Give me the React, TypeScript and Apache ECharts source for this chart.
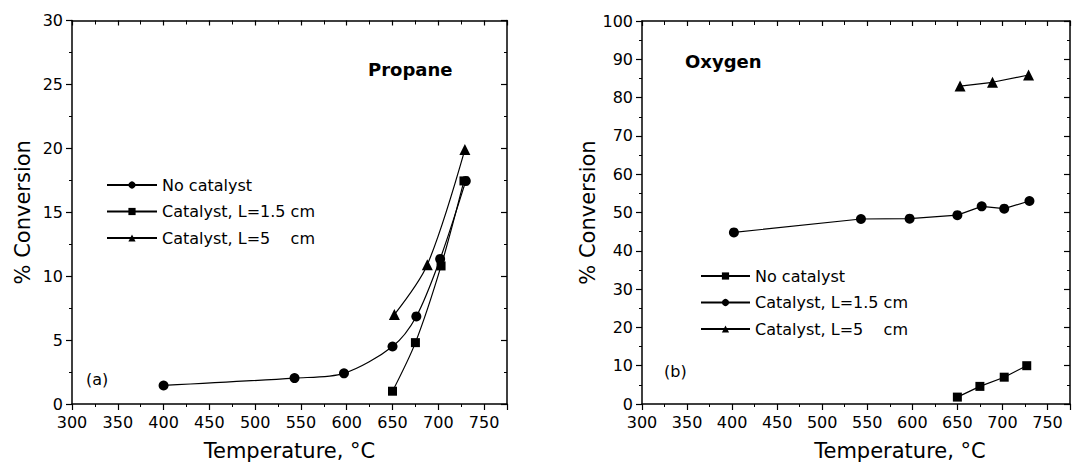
import React, { useEffect, useRef } from "react";
import * as echarts from "echarts";

// ---- Data ----
const xTicks = [300, 350, 400, 450, 500, 550, 600, 650, 700, 750];

// (a) Propane
const propNoCatT = [400, 543, 597, 650, 676, 702, 730];
const propNoCatC = [1.45, 2.03, 2.4, 4.5, 6.85, 11.35, 17.45];
const propCat15T = [650, 675, 703, 728];
const propCat15C = [1.0, 4.8, 10.8, 17.45];
const propCat5T = [652, 688, 729];
const propCat5C = [7.0, 10.9, 19.9];

// (b) Oxygen
const oxNoCatT = [650, 675, 702, 727];
const oxNoCatC = [1.8, 4.6, 7.0, 10.0];
const oxCat15T = [402, 543, 597, 650, 677, 702, 730];
const oxCat15C = [44.8, 48.3, 48.4, 49.3, 51.6, 51.0, 53.0];
const oxCat5T = [653, 689, 729];
const oxCat5C = [83.0, 84.0, 85.9];

const names = ["No catalyst", "Catalyst, L=1.5 cm", "Catalyst, L=5\u00a0\u00a0\u00a0\u00a0cm"];
const suffixB = " (b)";

const FONT = "DejaVu Sans";
const BLACK = "#000";

const pairs = (xs: number[], ys: number[]) => xs.map((x, i) => [x, ys[i]]);

export default function App() {
  const ref = useRef<HTMLDivElement>(null);

  useEffect(() => {
    if (!ref.current) return;
    const chart = echarts.init(ref.current, null, { renderer: "svg" });

    const xLabelFmt = (v: number) => (xTicks.includes(v) ? String(v) : "");

    const bottomX = (gridIndex: number, namePad: number[]) => ({
      type: "value",
      gridIndex,
      position: "bottom",
      min: 300,
      max: 775,
      interval: 50,
      name: "Temperature, °C",
      nameLocation: "middle",
      nameGap: 36,
      nameTextStyle: { fontFamily: FONT, fontSize: 21, color: BLACK, padding: namePad },
      axisLine: { show: true, onZero: false, lineStyle: { color: BLACK, width: 1.5 } },
      axisTick: { show: true, inside: false, length: 6, lineStyle: { color: BLACK, width: 1.2 } },
      minorTick: { show: true, splitNumber: 2, length: 3, lineStyle: { color: BLACK, width: 1 } },
      axisLabel: { show: true, margin: 10, fontFamily: FONT, fontSize: 16, color: BLACK, formatter: xLabelFmt },
      splitLine: { show: false },
      minorSplitLine: { show: false },
    });

    const topX = (gridIndex: number) => ({
      type: "value",
      gridIndex,
      position: "top",
      min: 300,
      max: 775,
      interval: 50,
      axisLine: { show: true, onZero: false, lineStyle: { color: BLACK, width: 1.5 } },
      axisTick: { show: true, inside: true, length: 5, lineStyle: { color: BLACK, width: 1.2 } },
      minorTick: { show: true, splitNumber: 2, length: 4, lineStyle: { color: BLACK, width: 1 } },
      axisLabel: { show: false },
      splitLine: { show: false },
    });

    const leftY = (gridIndex: number, max: number, interval: number, gap: number) => ({
      type: "value",
      gridIndex,
      position: "left",
      min: 0,
      max,
      interval,
      name: "% Conversion",
      nameLocation: "middle",
      nameGap: gap,
      nameTextStyle: { fontFamily: FONT, fontSize: 21, color: BLACK },
      axisLine: { show: true, onZero: false, lineStyle: { color: BLACK, width: 1.5 } },
      axisTick: { show: true, inside: false, length: 6, lineStyle: { color: BLACK, width: 1.2 } },
      minorTick: { show: true, splitNumber: 2, length: 3, lineStyle: { color: BLACK, width: 1 } },
      axisLabel: { show: true, margin: 9, fontFamily: FONT, fontSize: 16, color: BLACK },
      splitLine: { show: false },
    });

    const rightY = (gridIndex: number, max: number, interval: number) => ({
      type: "value",
      gridIndex,
      position: "right",
      min: 0,
      max,
      interval,
      axisLine: { show: true, onZero: false, lineStyle: { color: BLACK, width: 1.5 } },
      axisTick: { show: true, inside: true, length: 6, lineStyle: { color: BLACK, width: 1.2 } },
      minorTick: { show: true, splitNumber: 2, length: 3, lineStyle: { color: BLACK, width: 1 } },
      axisLabel: { show: false },
      splitLine: { show: false },
    });

    const mkSeries = (
      name: string,
      data: number[][],
      symbol: string,
      symbolSize: number,
      axis: number,
      smooth: number | boolean
    ) => ({
      type: "line",
      name,
      data,
      xAxisIndex: axis,
      yAxisIndex: axis,
      symbol,
      symbolSize,
      smooth,
      showAllSymbol: true,
      lineStyle: { color: BLACK, width: 1.2 },
      itemStyle: { color: BLACK },
      emphasis: { disabled: true },
    });

    const legendBase = {
      orient: "vertical",
      padding: 0,
      itemWidth: 50,
      itemHeight: 9,
      itemGap: 10.5,
      selectedMode: false,
      textStyle: { fontFamily: FONT, fontSize: 16, color: BLACK, lineHeight: 16 },
    };

    const option: any = {
      animation: false,
      backgroundColor: "#fff",
      textStyle: { fontFamily: FONT },
      grid: [
        { left: 72, top: 20.5, width: 435, height: 384.5, containLabel: false },
        { left: 642, top: 21, width: 438, height: 383, containLabel: false },
      ],
      xAxis: [bottomX(0, [0, 0, 0, 0]), topX(0), bottomX(1, [0, 0, 0, 88]), topX(1)],
      yAxis: [leftY(0, 30, 5, 39), rightY(0, 30, 5), leftY(1, 100, 10, 38), rightY(1, 100, 10)],
      legend: [
        {
          ...legendBase,
          left: 106,
          top: 177,
          data: names,
        },
        {
          ...legendBase,
          left: 700,
          top: 268,
          itemWidth: 49,
          data: names.map((n) => n + suffixB),
          formatter: (n: string) => n.replace(suffixB, ""),
        },
      ],
      series: [
        mkSeries(names[0], pairs(propNoCatT, propNoCatC), "circle", 10, 0, 0.3),
        mkSeries(names[1], pairs(propCat15T, propCat15C), "rect", 9, 0, 0.3),
        mkSeries(names[2], pairs(propCat5T, propCat5C), "triangle", 11, 0, 0.3),
        mkSeries(names[0] + suffixB, pairs(oxNoCatT, oxNoCatC), "rect", 9, 2, false),
        mkSeries(names[1] + suffixB, pairs(oxCat15T, oxCat15C), "circle", 10, 2, false),
        mkSeries(names[2] + suffixB, pairs(oxCat5T, oxCat5C), "triangle", 11, 2, false),
      ],
      graphic: [
        {
          type: "text",
          left: 368,
          top: 60,
          style: { text: "Propane", fontFamily: FONT, fontSize: 18, fontWeight: "bold", fill: BLACK },
        },
        {
          type: "text",
          left: 685,
          top: 52,
          style: { text: "Oxygen", fontFamily: FONT, fontSize: 18, fontWeight: "bold", fill: BLACK },
        },
        {
          type: "text",
          left: 86,
          top: 371,
          style: { text: "(a)", fontFamily: FONT, fontSize: 16, fill: BLACK },
        },
        {
          type: "text",
          left: 664,
          top: 363,
          style: { text: "(b)", fontFamily: FONT, fontSize: 16, fill: BLACK },
        },
      ],
    };

    chart.setOption(option);
    return () => chart.dispose();
  }, []);

  return (
    <div
      ref={ref}
      style={{ position: "fixed", left: 0, top: 0, width: 1073, height: 466, background: "#fff" }}
    />
  );
}
